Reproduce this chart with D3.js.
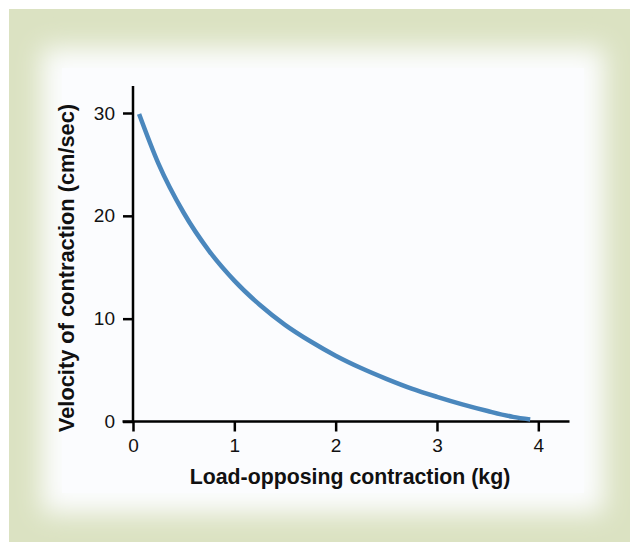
<!DOCTYPE html>
<html>
<head>
<meta charset="utf-8">
<script src="https://cdn.jsdelivr.net/npm/d3@7"></script>
<style>
  html, body { margin: 0; padding: 0; background: #ffffff; }
  svg { display: block; }
  text { font-family: "Liberation Sans", Arial, sans-serif; }
</style>
</head>
<body>
<div id="chart"></div>
<script>
// Data
const loadKg = [0.06, 0.25, 0.5, 0.75, 1.0, 1.25, 1.5, 1.75, 2.0, 2.25, 2.5, 2.75, 3.0, 3.25, 3.5, 3.75, 3.92];
const velocity = [29.9, 25.1, 20.3, 16.6, 13.7, 11.35, 9.4, 7.8, 6.4, 5.2, 4.15, 3.2, 2.4, 1.67, 1.02, 0.45, 0.2];
const xTicks = [0, 1, 2, 3, 4];
const yTicks = [0, 10, 20, 30];
const xLabel = "Load-opposing contraction (kg)";
const yLabel = "Velocity of contraction (cm/sec)";

const W = 630, H = 542;
const svg = d3.select("#chart").append("svg").attr("width", W).attr("height", H);

const defs = svg.append("defs");
const blur = defs.append("filter").attr("id", "soft")
  .attr("x", "-20%").attr("y", "-20%").attr("width", "140%").attr("height", "140%");
blur.append("feGaussianBlur").attr("stdDeviation", 13);

// background frame
svg.append("rect").attr("x", 9).attr("y", 9).attr("width", W - 9).attr("height", H - 9)
  .attr("fill", "#dbe2c2");
svg.append("rect").attr("x", 42).attr("y", 48).attr("width", 562).attr("height", 465)
  .attr("fill", "#fcfdfe").attr("filter", "url(#soft)");
svg.append("rect").attr("x", 62).attr("y", 68).attr("width", 522).attr("height", 425)
  .attr("fill", "#fbfcfe");

const x0 = 133, y0 = 421.5;
const x = d3.scaleLinear().domain([0, 4]).range([x0, 538.3]);
const y = d3.scaleLinear().domain([0, 30]).range([y0, 113]);

const axisColor = "#000";
const tickFont = 19;

// x axis
const gx = svg.append("g").attr("transform", `translate(0,${y0})`)
  .call(d3.axisBottom(x).tickValues(xTicks).tickSize(10).tickPadding(7).tickFormat(d3.format("d")));
gx.attr("font-size", tickFont).attr("font-family", "'Liberation Sans', Arial, sans-serif");
gx.select(".domain").remove();
gx.append("line").attr("x1", 122.5).attr("x2", 569.5).attr("y1", 0).attr("y2", 0)
  .attr("stroke", axisColor).attr("stroke-width", 2.5);
gx.selectAll(".tick line").attr("stroke", axisColor).attr("stroke-width", 2.5);
gx.selectAll(".tick text").attr("fill", "#111");

// y axis
const gy = svg.append("g").attr("transform", `translate(${x0},0)`)
  .call(d3.axisLeft(y).tickValues(yTicks).tickSize(10).tickPadding(8).tickFormat(d3.format("d")));
gy.attr("font-size", tickFont).attr("font-family", "'Liberation Sans', Arial, sans-serif");
gy.select(".domain").remove();
gy.append("line").attr("x1", 0).attr("x2", 0).attr("y1", 86).attr("y2", y0 + 1)
  .attr("stroke", axisColor).attr("stroke-width", 2.5);
gy.selectAll(".tick line").attr("stroke", axisColor).attr("stroke-width", 2.5);
gy.selectAll(".tick text").attr("fill", "#111");

// curve
const pts = loadKg.map((d, i) => [d, velocity[i]]);
svg.append("path").datum(pts)
  .attr("fill", "none").attr("stroke", "#4a87bd").attr("stroke-width", 4.5)
  .attr("d", d3.line().x(d => x(d[0])).y(d => y(d[1])).curve(d3.curveMonotoneX));

// axis labels
svg.append("text").attr("x", 350).attr("y", 484).attr("text-anchor", "middle")
  .attr("font-size", 21.3).attr("font-weight", "bold").attr("fill", "#111").text(xLabel);
svg.append("text").attr("transform", `translate(74,268) rotate(-90)`).attr("text-anchor", "middle")
  .attr("font-size", 21.8).attr("font-weight", "bold").attr("fill", "#111").text(yLabel);
</script>
</body>
</html>
